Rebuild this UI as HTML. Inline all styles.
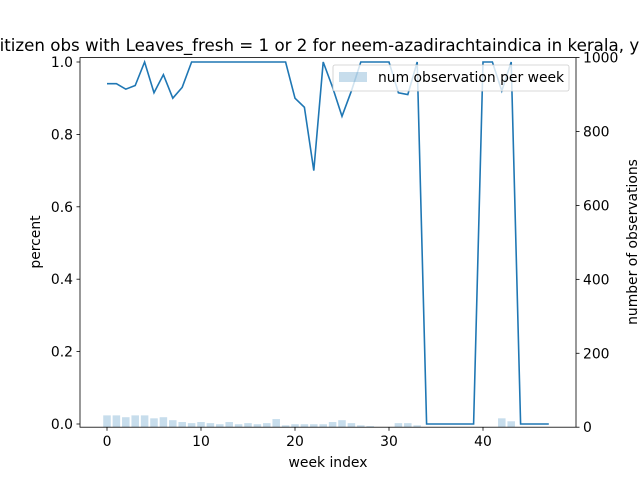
<!DOCTYPE html>
<html><head><meta charset="utf-8"><style>body{margin:0;background:#fff}svg{display:block;font-family:"DejaVu Sans","Liberation Sans",sans-serif}</style></head>
<body>
<svg id="chart" width="640" height="480" viewBox="0 0 640 480">
<text x="-12" y="51" font-size="16.67" fill="#000">Citizen obs with Leaves_fresh = 1 or 2 for neem-azadirachtaindica in kerala, year</text>
<g id="bars"></g>
<g id="ticks"></g>
<path id="line" fill="none" stroke="#1f77b4" stroke-width="1.6"/>
<rect x="80" y="57.6" width="496" height="369.6" fill="none" stroke="#000" stroke-width="0.8"/>
<g>
<rect x="333" y="65" width="236" height="26" rx="2" fill="#fff" fill-opacity="0.8" stroke="#ccc" stroke-width="0.8"/>
<rect x="339" y="72" width="28" height="10" fill="#1f77b4" fill-opacity="0.25"/>
<text x="378" y="82" font-size="13.9">num observation per week</text>
</g>
<text x="328" y="467" font-size="13.9" text-anchor="middle">week index</text>
<text transform="translate(40,242) rotate(-90)" font-size="13.9" text-anchor="middle">percent</text>
<text transform="translate(637,242) rotate(-90)" font-size="13.9" text-anchor="middle">number of observations</text>
</svg>
<script>
const weeks=[0,1,2,3,4,5,6,7,8,9,10,11,12,13,14,15,16,17,18,19,20,21,22,23,24,25,26,27,28,29,30,31,32,33,34,35,36,37,38,39,40,41,42,43,44,45,46,47];
const percent=[0.94,0.94,0.925,0.935,1,0.915,0.965,0.9,0.93,1,1,1,1,1,1,1,1,1,1,1,0.9,0.875,0.70,1,0.93,0.85,0.92,1,1,1,1,0.915,0.91,1,0,0,0,0,0,0,1,1,0.92,1,0,0,0,0];
const counts=[32,32,27,32,32,24,27,19,14,11,14,11,8,14,8,11,8,11,22,5,8,8,8,8,14,19,11,5,3,0,0,11,11,5,0,0,0,0,0,0,0,0,24,16,0,0,0,0];
const xTicks=[0,10,20,30,40];
const yTicksL=[0,0.2,0.4,0.6,0.8,1.0];
const yTicksR=[0,200,400,600,800,1000];
const ns="http://www.w3.org/2000/svg";
const X=v=>107+9.4*v;
const YL=v=>424-362*v;
const YR=v=>427.2-0.3696*v;
const bars=document.getElementById('bars'),tk=document.getElementById('ticks');
function mk(tag,at,parent){const e=document.createElementNS(ns,tag);for(const k in at)e.setAttribute(k,at[k]);parent.appendChild(e);return e;}
weeks.forEach((w,i)=>{const h=427.2-YR(counts[i]);
const r=mk('rect',{x:X(w)-3.76,y:YR(counts[i]),width:7.52,height:h,fill:'#1f77b4','fill-opacity':0.25},bars);

});
document.getElementById('line').setAttribute('d',weeks.map((w,i)=>(i?'L':'M')+X(w)+','+YL(percent[i])).join(''));
xTicks.forEach(t=>{mk('line',{x1:X(t),x2:X(t),y1:427.2,y2:430.7,stroke:'#000','stroke-width':0.8},tk);
const e=mk('text',{x:X(t),y:446,'font-size':13.9,'text-anchor':'middle'},tk);e.textContent=t;

});
yTicksL.forEach(t=>{mk('line',{x1:76.5,x2:80,y1:YL(t),y2:YL(t),stroke:'#000','stroke-width':0.8},tk);
const e=mk('text',{x:73,y:YL(t)+5,'font-size':13.9,'text-anchor':'end'},tk);e.textContent=t.toFixed(1);

});
yTicksR.forEach(t=>{mk('line',{x1:576,x2:579.5,y1:YR(t),y2:YR(t),stroke:'#000','stroke-width':0.8},tk);
const e=mk('text',{x:583,y:YR(t)+5,'font-size':13.9},tk);e.textContent=t;

});
</script>
</body></html>
